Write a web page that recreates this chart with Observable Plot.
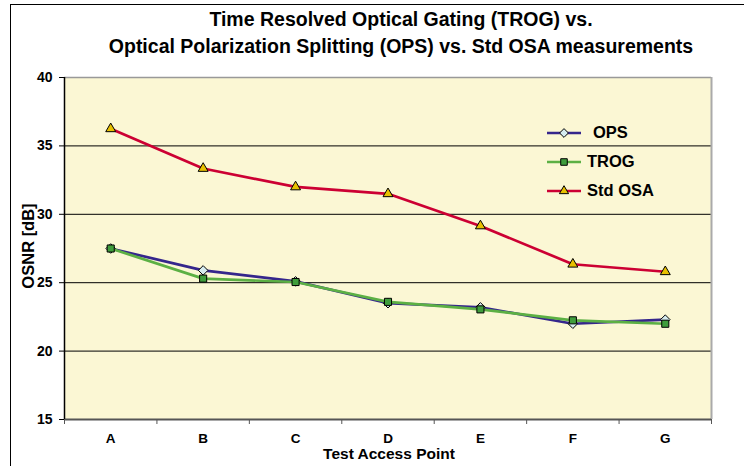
<!DOCTYPE html>
<html>
<head>
<meta charset="utf-8">
<script src="https://cdn.jsdelivr.net/npm/d3@7"></script>
<script src="https://cdn.jsdelivr.net/npm/@observablehq/plot@0.6"></script>
<style>
  html, body { margin: 0; padding: 0; background: #fff; }
  #wrap { position: relative; width: 744px; height: 466px; overflow: hidden; background: #fff;
          font-family: "Liberation Sans", Arial, sans-serif; font-weight: bold; color: #000; }
  #frame { position: absolute; left: 10px; top: 4px; width: 800px; height: 600px;
           border-left: 1.5px solid #000; border-top: 1.5px solid #000; pointer-events: none; }
  #title { position: absolute; left: 58px; width: 686px; top: 6px; text-align: center;
           font-size: 19.5px; line-height: 27px; white-space: nowrap; }
  #chart { position: absolute; left: 0; top: 60px; }
  #ytitle { position: absolute; left: 28px; top: 246px; transform: translate(-50%, -50%) rotate(-90deg);
            font-size: 16.5px; white-space: nowrap; }
  #xtitle { position: absolute; left: 389px; top: 454px; transform: translate(-50%, -50%);
            font-size: 15.5px; white-space: nowrap; }
  #legend { position: absolute; left: 546px; top: 118px; }
  .lrow { display: flex; align-items: center; height: 29px; font-size: 16.5px; }
  .lrow svg { margin-right: 5px; }
</style>
</head>
<body>
<div id="wrap">
  <div id="frame"></div>
  <div id="title">Time Resolved Optical Gating (TROG) vs.<br>Optical Polarization Splitting (OPS) vs. Std OSA measurements</div>
  <div id="chart"></div>
  <div id="ytitle">OSNR [dB]</div>
  <div id="xtitle">Test Access Point</div>
  <div id="legend"></div>
</div>
<script>
// ---- data ----
const categories = ["A", "B", "C", "D", "E", "F", "G"];
const opsValues  = [27.5, 25.9, 25.1, 23.5, 23.2, 22.0, 22.3];
const trogValues = [27.5, 25.3, 25.05, 23.6, 23.05, 22.25, 22.0];
const osaValues  = [36.25, 33.35, 32.0, 31.5, 29.15, 26.35, 25.8];
const seriesNames = ["OPS", "TROG", "Std OSA"];
const yTicks = [15, 20, 25, 30, 35, 40];
const gridValues = [20, 25, 30, 35];

// ---- styles ----
const styles = {
  "OPS":     {line: "#35268c", fill: "#d6ecef", symbol: "diamond2", r: 4.3},
  "TROG":    {line: "#5cb044", fill: "#3f9d3c", symbol: "square",   r: 4.0},
  "Std OSA": {line: "#cc0033", fill: "#e8c000", symbol: "triangle", r: 3.7}
};
const valuesBy = {"OPS": opsValues, "TROG": trogValues, "Std OSA": osaValues};

const idx = d3.range(categories.length);
const seriesData = seriesNames.map(name => idx.map(i => ({i, cat: categories[i], v: valuesBy[name][i], name})));

const marks = [
  Plot.frame({fill: "#fbf7d4", stroke: null}),
  Plot.ruleY(gridValues, {stroke: "#000", strokeWidth: 1}),
  Plot.ruleY([yTicks[yTicks.length - 1]], {stroke: "#999", strokeWidth: 1.5}),
  Plot.ruleX([categories.length - 0.5], {stroke: "#aaa", strokeWidth: 2}),
  Plot.ruleY([yTicks[0]], {stroke: "#555", strokeWidth: 2}),
  Plot.ruleX([-0.5], {stroke: "#000", strokeWidth: 1.5}),
  Plot.axisY({ticks: yTicks, tickSize: 5, tickPadding: 7, label: null, fontSize: 14, fontWeight: "bold"}),
  Plot.axisX({ticks: idx, tickFormat: i => categories[i], tickSize: 0, tickPadding: 14, label: null, fontSize: 13.5, fontWeight: "bold"}),
  Plot.axisX({ticks: d3.range(categories.length + 1).map(i => i - 0.5), tickFormat: () => "", tickSize: 5, label: null, stroke: "#555"})
];
seriesNames.forEach((name, k) => {
  const st = styles[name];
  marks.push(Plot.line(seriesData[k], {x: "i", y: "v", stroke: st.line, strokeWidth: 2.7}));
  marks.push(Plot.dot(seriesData[k], {x: "i", y: "v", symbol: () => st.symbol, r: st.r, fill: st.fill, stroke: "#000", strokeWidth: 1}));
});

const chart = Plot.plot({
  width: 744,
  height: 406,
  marginLeft: 64,
  marginRight: 33,
  marginTop: 17,
  marginBottom: 47,
  style: {background: "transparent", fontFamily: '"Liberation Sans", Arial, sans-serif', color: "#000"},
  x: {type: "linear", domain: [-0.5, categories.length - 0.5], axis: null},
  y: {domain: [yTicks[0], yTicks[yTicks.length - 1]], axis: null},
  symbol: {type: "identity"},
  marks
});
document.getElementById("chart").appendChild(chart);

// ---- legend ----
const legend = d3.select("#legend");
seriesNames.forEach(name => {
  const st = styles[name];
  const row = legend.append("div").attr("class", "lrow");
  const svg = row.append("svg").attr("width", 36).attr("height", 14);
  svg.append("line").attr("x1", 1).attr("x2", 35).attr("y1", 7).attr("y2", 7)
     .attr("stroke", st.line).attr("stroke-width", 2.6);
  const sym = {diamond2: d3.symbolDiamond2, square: d3.symbolSquare, triangle: d3.symbolTriangle}[st.symbol];
  svg.append("path").attr("transform", "translate(18,7)")
     .attr("d", d3.symbol(sym, Math.PI * st.r * st.r * 0.85)())
     .attr("fill", st.fill).attr("stroke", "#000").attr("stroke-width", 1);
  row.append("span").style("margin-left", name === "OPS" ? "6px" : "0").text(name);
});
</script>
</body>
</html>
